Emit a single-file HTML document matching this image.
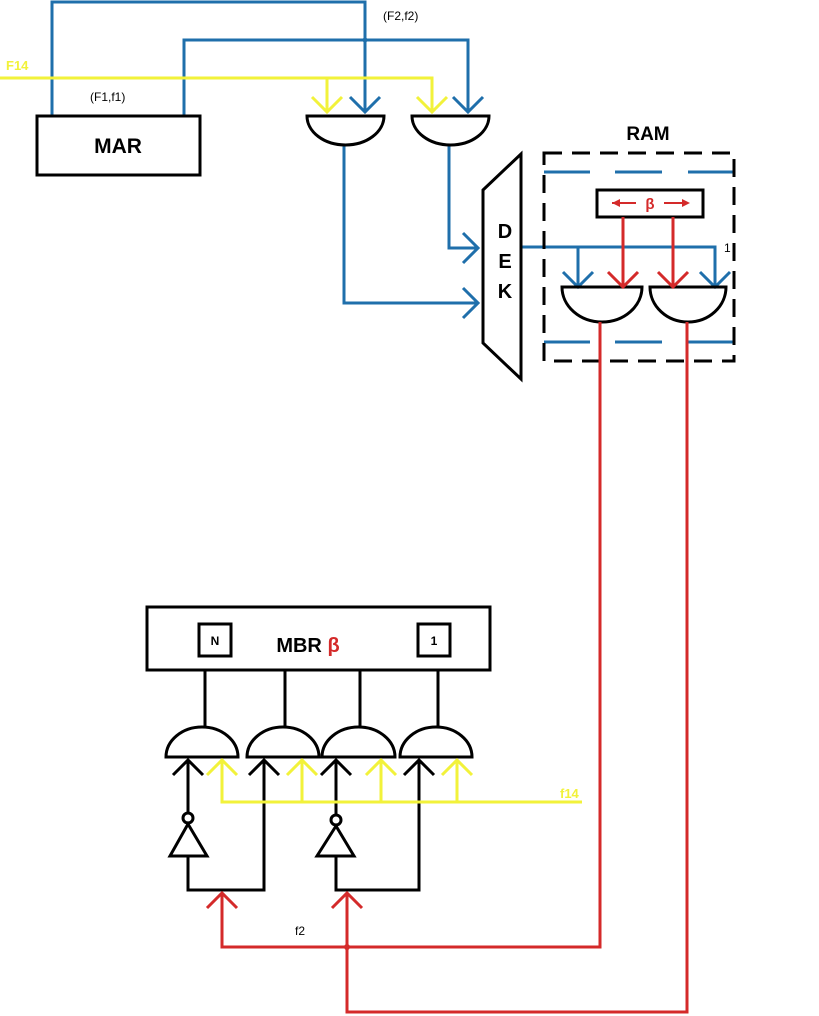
<!DOCTYPE html>
<html><head><style>body{margin:0;background:#fff}svg{display:block}</style></head><body>
<svg width="819" height="1016" viewBox="0 0 819 1016" xmlns="http://www.w3.org/2000/svg" font-family="Liberation Sans, sans-serif">
<rect width="819" height="1016" fill="#fff"/>
<g fill="none" stroke-width="3">
<!-- blue top wires -->
<g stroke="#1f6fab">
<polyline points="52,116 52,2 365,2 365,112"/>
<polyline points="184,116 184,40 468,40 468,112"/>
<polyline points="350,97 365,112 380,97"/>
<polyline points="453,97 468,112 483,97"/>
<polyline points="344,145 344,303 478,303"/>
<polyline points="463,288 478,303 463,318"/>
<polyline points="449,145 449,248 478,248"/>
<polyline points="463,233 478,248 463,263"/>
<polyline points="521,247 715,247 715,287"/>
<polyline points="578,247 578,287"/>
<polyline points="563,272 578,287 593,272"/>
<polyline points="700,272 715,287 730,272"/>
<path d="M544,172H590M615,172H662M688,172H734M544,342H590M615,342H662M688,342H734" stroke-width="3"/>
</g>
<circle cx="365" cy="40" r="2.5" fill="#1f6fab"/>
<!-- yellow -->
<g stroke="#f2f23a">
<polyline points="0,78 432,78 432,112"/>
<polyline points="327,78 327,112"/>
<polyline points="312,97 327,112 342,97"/>
<polyline points="417,97 432,112 447,97"/>
</g>
<!-- black shapes -->
<g stroke="#000">
<rect x="37" y="116" width="163" height="59"/>
<path d="M307,116H384A38.5,29 0 0 1 307,116Z"/>
<path d="M412,116H489A38.5,29 0 0 1 412,116Z"/>
<polygon points="483,190 521,154 521,379 483,343"/>
<rect x="544" y="153" width="190" height="208" stroke-dasharray="18,10"/>
<rect x="597" y="190" width="106" height="27"/>
<path d="M562,287H642A40,35 0 0 1 562,287Z"/>
<path d="M650,287H726A38,35 0 0 1 650,287Z"/>
<rect x="147" y="607" width="343" height="63"/>
<rect x="199" y="624" width="32" height="32"/>
<rect x="418" y="624" width="32" height="32"/>
<path d="M205,670V727M285,670V727M360,670V727M438,670V727"/>
<path d="M166,757H238A36,30 0 0 0 166,757Z"/>
<path d="M247,757H319A36,30 0 0 0 247,757Z"/>
<path d="M322,757H395A36.5,30 0 0 0 322,757Z"/>
<path d="M400,757H472A36,30 0 0 0 400,757Z"/>
<path d="M188,760V813M188,856V890H264V760M336,760V815M336,856V890H419V760"/>
<polyline points="173,775 188,760 203,775"/>
<polyline points="249,775 264,760 279,775"/>
<polyline points="321,775 336,760 351,775"/>
<polyline points="404,775 419,760 434,775"/>
<circle cx="188" cy="818" r="5"/>
<polygon points="188,824 170,856 207,856"/>
<circle cx="336" cy="820" r="5"/>
<polygon points="336,826 317,856 354,856"/>
</g>
<!-- yellow bottom -->
<g stroke="#f2f23a">
<polyline points="222,760 222,802 582,802"/>
<path d="M302,760V802M381,760V802M457,760V802"/>
<polyline points="207,775 222,760 237,775"/>
<polyline points="287,775 302,760 317,775"/>
<polyline points="366,775 381,760 396,775"/>
<polyline points="442,775 457,760 472,775"/>
</g>
<!-- red -->
<g stroke="#d42a2a">
<path d="M623,217V287M673,217V287"/>
<polyline points="608,272 623,287 638,272"/>
<polyline points="658,272 673,287 688,272"/>
<polyline points="600,322 600,947 222,947 222,893"/>
<polyline points="687,322 687,1012 347,1012 347,893"/>
<polyline points="207,908 222,893 237,908"/>
<polyline points="332,908 347,893 362,908"/>
<path d="M612,203H636M664,203H688" stroke-width="2"/>
</g>
<circle cx="347" cy="947" r="3" fill="#d42a2a"/>
<polygon points="612,203 620,199 620,207" fill="#d42a2a"/>
<polygon points="690,203 682,199 682,207" fill="#d42a2a"/>
</g>
<g font-weight="bold">
<text x="118" y="153" font-size="21" text-anchor="middle">MAR</text>
<text x="6" y="70" font-size="13" fill="#f2f23a">F14</text>
<text x="648" y="140" font-size="19" text-anchor="middle">RAM</text>
<text x="505" y="238" font-size="20" text-anchor="middle">D</text>
<text x="505" y="268" font-size="20" text-anchor="middle">E</text>
<text x="505" y="298" font-size="20" text-anchor="middle">K</text>
<text x="650" y="209" font-size="15" fill="#d42a2a" text-anchor="middle">β</text>
<text x="308" y="652" font-size="20" text-anchor="middle">MBR <tspan fill="#d42a2a">β</tspan></text>
<text x="215" y="645" font-size="12" text-anchor="middle">N</text>
<text x="434" y="645" font-size="12" text-anchor="middle">1</text>
<text x="560" y="798" font-size="13" fill="#f2f23a">f14</text>
</g>
<text x="90" y="101" font-size="12">(F1,f1)</text>
<text x="383" y="20" font-size="12">(F2,f2)</text>
<text x="724" y="252" font-size="12">1</text>
<text x="295" y="935" font-size="12">f2</text>
</svg>
</body></html>
